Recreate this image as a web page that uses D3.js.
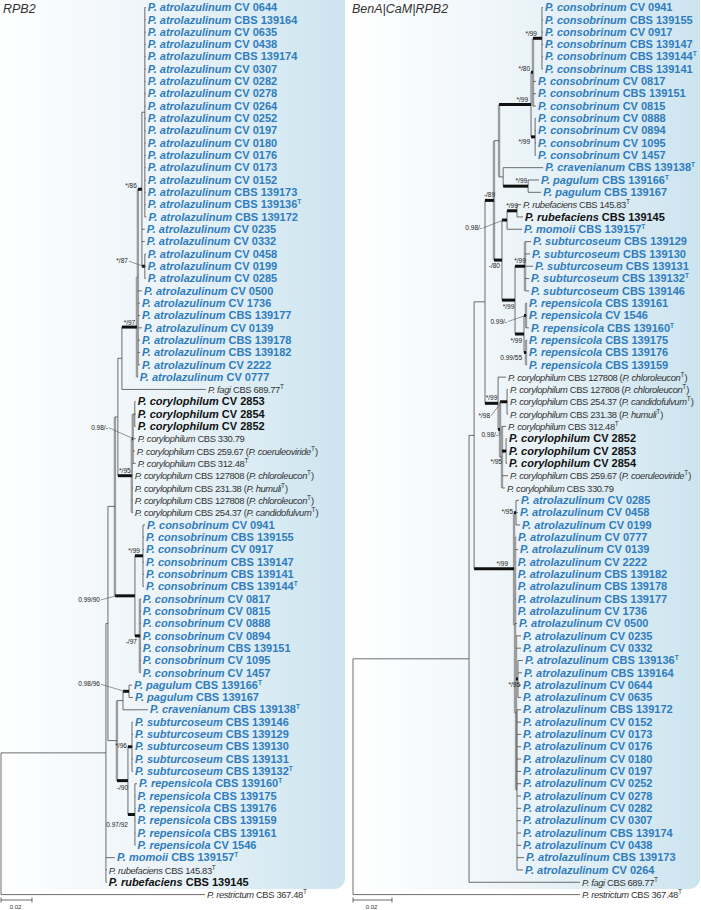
<!DOCTYPE html>
<html><head><meta charset="utf-8">
<script src="https://cdn.jsdelivr.net/npm/d3@7"></script>
<style>
html,body{margin:0;padding:0;background:#fff;}
svg{display:block;font-family:"Liberation Sans",Arial,sans-serif;}
.blue{fill:#2f7cbf;font-weight:bold;font-size:11px;}
.bold{fill:#111;font-weight:bold;font-size:11px;}
.plain{fill:#333;font-weight:normal;font-size:9.4px;letter-spacing:-0.36px;}
.sup{font-size:6.5px;letter-spacing:0;}
.sup-text{font-size:6.5px;fill:#222;}
</style></head>
<body>
<svg id="chart" width="701" height="910"></svg>
<script>
// ---------------- DATA ----------------
const panelTitles = ["RPB2", "BenA|CaM|RPB2"];
const scaleBarValue = 0.02;
const tipRows = 73;

const leftNewick = `(
 (
  (
   (
    (
     (
      (
       (
        (
         (atrolazulinum CV 0644:0.0006,atrolazulinum CBS 139164:0.0006,atrolazulinum CV 0635:0.0006,atrolazulinum CV 0438:0.0006,atrolazulinum CBS 139174:0.0006,atrolazulinum CV 0307:0.0006,atrolazulinum CV 0282:0.0006,atrolazulinum CV 0278:0.0006,atrolazulinum CV 0264:0.0006,atrolazulinum CV 0252:0.0006,atrolazulinum CV 0197:0.0006,atrolazulinum CV 0180:0.0006,atrolazulinum CV 0176:0.0006,atrolazulinum CV 0173:0.0006,atrolazulinum CV 0152:0.0006,atrolazulinum CBS 139173:0.0006,atrolazulinum CBS 139136^T:0.0006,atrolazulinum CBS 139172:0.0010)Q:0.0019,
         atrolazulinum CV 0235:0.0019,
         atrolazulinum CV 0332:0.0019,
         (atrolazulinum CV 0458:0.0006,atrolazulinum CV 0199:0.0006,atrolazulinum CV 0285:0.0006)N87:0.0019
        )N86:0.0026,
        atrolazulinum CV 0500:0.0026,
        atrolazulinum CV 1736:0.0013,
        atrolazulinum CBS 139177:0.0013,
        atrolazulinum CV 0139:0.0026,
        atrolazulinum CBS 139178:0.0013,
        atrolazulinum CBS 139182:0.0013,
        atrolazulinum CV 2222:0.0013
       )P1:0.0006,
       atrolazulinum CV 0777:0.0006
      )ATRO:0.0097,
      fagi CBS 689.77^T:0.0542
     )AF:0.0026,
     (
      (
       (corylophilum CV 2853:0.0006,corylophilum CV 2854:0.0006,corylophilum CV 2852:0.0006)C2:0.0013,
       corylophilum CBS 330.79:0.0019,
       corylophilum CBS 259.67 [coeruleoviride]:0.0013,
       corylophilum CBS 312.48^T:0.0019
      )C1:0.0006,
      corylophilum CBS 127808 [chloroleucon]:0.0006,
      corylophilum CBS 231.38 [humuli]:0.0006,
      corylophilum CBS 127808 [chloroleucon]:0.0006,
      corylophilum CBS 254.37 [candidofulvum]:0.0006
     )CORY:0.0090
    )N2:0.0019,
    (
     (consobrinum CV 0941:0.0013,consobrinum CBS 139155:0.0006,consobrinum CV 0917:0.0006,consobrinum CBS 139147:0.0006,consobrinum CBS 139141:0.0006,consobrinum CBS 139144^T:0.0006)N99:0.0052,
     (consobrinum CV 0817:0.0006,consobrinum CV 0815:0.0006,consobrinum CV 0888:0.0006,consobrinum CV 0894:0.0006,consobrinum CBS 139151:0.0006,consobrinum CV 1095:0.0006,consobrinum CV 1457:0.0006)N97:0.0032
    )CONS:0.0129
   )N1:0.0045,
   (
    ((pagulum CBS 139166^T:0.0019,pagulum CBS 139167:0.0026)PAG:0.0039,cravenianum CBS 139138^T:0.0161)PC:0.0039,
    (
     (subturcoseum CBS 139146:0.0006,subturcoseum CBS 139129:0.0006,subturcoseum CBS 139130:0.0006,subturcoseum CBS 139131:0.0006,subturcoseum CBS 139132^T:0.0006)SUB:0.0026,
     (repensicola CBS 139160^T:0.0013,repensicola CBS 139175:0.0003,repensicola CBS 139176:0.0003,repensicola CBS 139159:0.0003,repensicola CBS 139161:0.0003,repensicola CV 1546:0.0003)REP:0.0045
    )SR:0.0071
   )Z:0.0058
  )A:0.0013,
  momoii CBS 139157^T:0.0058,
  rubefaciens CBS 145.83^T:0.0006,
  rubefaciens CBS 139145:0.0006
 )I:0.0677,
 restrictum CBS 367.48^T:0.1316
)root;`;

const rightNewick = `(
 (
  (
   (
    (
     (
      (
       (
        (consobrinum CV 0941:0.0005,consobrinum CBS 139155:0.0005,consobrinum CV 0917:0.0005,consobrinum CBS 139147:0.0005,consobrinum CBS 139144^T:0.0005,consobrinum CBS 139141:0.0005)N99a:0.0046,
        consobrinum CV 0817:0.0015,consobrinum CBS 139151:0.0015,consobrinum CV 0815:0.0015
       )N80:0.0010,
       (consobrinum CV 0888:0.0005,consobrinum CV 0894:0.0005,consobrinum CV 1095:0.0005,consobrinum CV 1457:0.0005)N99b:0.0021
      )CONS:0.0164,
      (cravenianum CBS 139138^T:0.0205,(pagulum CBS 139166^T:0.0056,pagulum CBS 139167:0.0067)PAG:0.0128)PC:0.0021
     )CPC:0.0026,
     (
      ((rubefaciens CBS 145.83^T:0.0021,rubefaciens CBS 139145:0.0031)RUB:0.0051,momoii CBS 139157^T:0.0077)RUBM:0.0026,
      (
       (subturcoseum CBS 139129:0.0031,subturcoseum CBS 139130:0.0026,subturcoseum CBS 139131:0.0041,subturcoseum CBS 139132^T:0.0021,subturcoseum CBS 139146:0.0021)SUB:0.0051,
       ((repensicola CBS 139161:0.0005,repensicola CV 1546:0.0005,repensicola CBS 139160^T:0.0015)R1:0.0010,(repensicola CBS 139175:0.0005,repensicola CBS 139176:0.0005,repensicola CBS 139159:0.0005)R2:0.0010)REP:0.0046
      )SR:0.0067
     )W:0.0041
    )V:0.0046,
    (
     corylophilum CBS 127808 [chloroleucon]:0.0041,
     (
      (corylophilum CBS 127808 [chloroleucon]:0.0005,corylophilum CBS 254.37 [candidofulvum]:0.0005,corylophilum CBS 231.38 [humuli]:0.0005)C3:0.0036,
      (corylophilum CBS 312.48^T:0.0021,(corylophilum CV 2852:0.0005,corylophilum CV 2853:0.0005,corylophilum CV 2854:0.0005)C5:0.0021,corylophilum CBS 259.67 [coeruleoviride]:0.0031,corylophilum CBS 330.79:0.0015)C4:0.0010
     )C2:0.0010
    )CORY:0.0067
   )U:0.0056,
   (
    (atrolazulinum CV 0285:0.0015,atrolazulinum CV 0458:0.0010,atrolazulinum CV 0199:0.0021)A95:0.0010,
    (
     atrolazulinum CV 0777:0.0005,atrolazulinum CV 0139:0.0015,atrolazulinum CV 2222:0.0003,atrolazulinum CBS 139182:0.0003,atrolazulinum CBS 139178:0.0003,atrolazulinum CBS 139177:0.0003,atrolazulinum CV 1736:0.0003,atrolazulinum CV 0500:0.0010,
     (
      atrolazulinum CV 0235:0.0026,atrolazulinum CV 0332:0.0026,
      (atrolazulinum CBS 139136^T:0.0026,atrolazulinum CBS 139164:0.0021,atrolazulinum CV 0644:0.0015,atrolazulinum CV 0635:0.0015)B95:0.0010,
      (atrolazulinum CBS 139172:0.0021,atrolazulinum CV 0152:0.0021,atrolazulinum CV 0173:0.0021,atrolazulinum CV 0176:0.0021,atrolazulinum CV 0180:0.0021,atrolazulinum CV 0197:0.0021,atrolazulinum CV 0252:0.0021,atrolazulinum CV 0278:0.0021,atrolazulinum CV 0282:0.0021,atrolazulinum CV 0307:0.0021,atrolazulinum CBS 139174:0.0021,atrolazulinum CV 0438:0.0021,atrolazulinum CBS 139173:0.0036,atrolazulinum CV 0264:0.0031)B2:0.0005
     )B:0.0005
    )X:0.0005
   )ATRO:0.0205
  )I2:0.0026,
  fagi CBS 689.77^T:0.0569
 )F:0.0595,
 restrictum CBS 367.48^T:0.1164
)root;`;

const blueSpecies = ["atrolazulinum","consobrinum","pagulum","cravenianum","subturcoseum","repensicola","momoii"];
const boldTips = ["corylophilum CV 2853","corylophilum CV 2854","corylophilum CV 2852","rubefaciens CBS 139145"];

const leftSupport = [["N86","*/86"],["N87","*/87"],["ATRO","*/97"],["C1","0.98/-"],["CORY","*/95"],["N99","*/99"],["CONS","0.99/90"],["N97","-/97"],["PAG","0.98/96"],["SUB","*/96"],["SR","-/90"],["REP","0.97/92"]];
const rightSupport = [["N99a","*/99"],["N80","*/80"],["CONS","*/99"],["N99b","*/99"],["PAG","*/99"],["V","-/89"],["RUB","*/99"],["RUBM","0.98/-"],["W","-/80"],["SUB","*/99"],["SR","*/99"],["R1","0.99/-"],["REP","*/99"],["R2","0.99/55"],["CORY","*/99"],["C3","*/98"],["C2","0.98/-"],["C5","*/95"],["A95","*/95"],["ATRO","*/99"],["B95","*/95"]];

// ---------------- STYLE / LAYOUT ----------------
const leftLabelPos = {N86:["end",-1,-1],N87:["end",-14,-3,1],ATRO:["mid",0,-2.5],C1:["end",-24,-9,1],CORY:["mid",0,-2.5],N99:["end",5,-2.5],CONS:["end",-15,6,1],N97:["end",2,8],PAG:["end",-23,-5,1],SUB:["end",-1,1],SR:["mid",0,9],REP:["end",0,12]};
const rightLabelPos = {N99a:["end",4,-2.5],N80:["end",-1,-1],CONS:["end",29,-3],N99b:["end",-1,7],PAG:["end",24,-3],V:["mid",0,-3],RUB:["mid",0,-3],RUBM:["end",-20,10,1],W:["end",6,8],SUB:["mid",0,-3],SR:["mid",0,9],R1:["end",-17,8,1],REP:["end",7,9],R2:["end",-2,8],CORY:["mid",0,-3],C3:["end",-10,16,1],C2:["end",0,8,1],C5:["end",0,13],A95:["end",-1,1],ATRO:["end",34,-3],B95:["end",4,8]};
const leftGrey = ["ATRO","P1","CORY","C1","N1","Z","N97"];
const rightGrey = ["V","CPC","N80","SUB","R1","R2","C2","C4","ATRO","X","B"];

function parseNewick(s) {
  let i = 0;
  const ws = () => { while (i < s.length && /\s/.test(s[i])) i++; };
  function node() {
    ws();
    const n = {};
    if (s[i] === '(') {
      i++; n.children = [node()]; ws();
      while (s[i] === ',') { i++; n.children.push(node()); ws(); }
      i++;
    }
    let name = '';
    while (i < s.length && !',():;'.includes(s[i])) name += s[i++];
    n.name = name.trim();
    if (s[i] === ':') { i++; let num = ''; while (i < s.length && !',();'.includes(s[i])) num += s[i++]; n.length = +num; }
    else n.length = 0;
    return n;
  }
  return node();
}

const svg = d3.select("#chart");
const defs = svg.append("defs");
const grad = defs.append("linearGradient").attr("id","bg").attr("x1",0).attr("x2",1).attr("y1",0).attr("y2",0);
grad.append("stop").attr("offset","0%").attr("stop-color","#ffffff");
grad.append("stop").attr("offset","45%").attr("stop-color","#eef5f9");
grad.append("stop").attr("offset","100%").attr("stop-color","#cce4ef");

svg.append("rect").attr("x",-12).attr("y",-12).attr("width",357).attr("height",901).attr("rx",11).attr("fill","url(#bg)");
svg.append("rect").attr("x",349).attr("y",-12).attr("width",351).attr("height",901).attr("rx",11).attr("fill","url(#bg)");

const rowY = d3.scaleLinear().domain([0, tipRows - 1]).range([7.5, 894.6]);

function drawLabel(g, name, x, y) {
  let paren = null;
  const m = name.match(/\[(.+)\]/);
  if (m) { paren = m[1]; name = name.replace(/\s*\[.+\]/, ''); }
  const parts = name.split(' ');
  const species = parts[0];
  let strain = parts.slice(1).join(' ');
  let typeT = false;
  if (strain.endsWith('^T')) { typeT = true; strain = strain.slice(0, -2); }
  const cls = blueSpecies.includes(species) ? 'blue' : (boldTips.includes(name) ? 'bold' : 'plain');
  const t = g.append("text").attr("class", cls).attr("x", x).attr("y", y + 3.7);
  t.append("tspan").attr("font-style","italic").text("P. " + species);
  t.append("tspan").text(" " + strain);
  let up = false;
  if (typeT) { t.append("tspan").attr("class","sup").attr("dy",-4).text("T"); up = true; }
  if (paren) {
    t.append("tspan").attr("dy", up ? 4 : 0).text(" (");
    t.append("tspan").attr("font-style","italic").text("P. " + paren);
    t.append("tspan").attr("class","sup").attr("dy",-4).text("T");
    t.append("tspan").attr("dy",4).text(")");
  }
}

function drawTree(newick, xScale, support, labelPos, greyList) {
  const root = d3.hierarchy(parseNewick(newick));
  root.eachBefore(n => { n.len = n.parent ? n.parent.len + n.data.length : 0; n.px = xScale(n.len); });
  root.leaves().forEach((l, i) => l.py = rowY(i));
  root.eachAfter(n => { if (n.children) n.py = (n.children[0].py + n.children[n.children.length - 1].py) / 2; });
  const supMap = new Map(support);
  const g = svg.append("g");
  const nodes = root.descendants();
  nodes.filter(n => n.children).forEach(n => {
    const y0 = n.children[0].py, y1 = n.children[n.children.length - 1].py;
    const grey = greyList.includes(n.data.name);
    g.append("line").attr("x1", n.px).attr("x2", n.px).attr("y1", y0).attr("y2", y1)
      .attr("stroke", grey ? "#9c9c9c" : "#4a4a4a").attr("stroke-width", grey ? 2.4 : 0.8);
  });
  nodes.filter(n => n.parent).forEach(n => {
    const thick = supMap.has(n.data.name);
    g.append("line").attr("x1", n.parent.px).attr("x2", n.px).attr("y1", n.py).attr("y2", n.py)
      .attr("stroke", thick ? "#111" : "#4a4a4a").attr("stroke-width", thick ? 3 : 0.8);
  });
  root.leaves().forEach(l => drawLabel(g, l.data.name, l.px + 2, l.py));
  nodes.filter(n => supMap.has(n.data.name)).forEach(n => {
    const [anchor, dx, dy, leader] = labelPos[n.data.name];
    const x = anchor === "mid" ? (n.parent.px + n.px) / 2 + dx : n.parent.px + dx;
    const y = n.py + dy;
    g.append("text").attr("class","sup-text").attr("x", x).attr("y", y)
      .attr("text-anchor", anchor === "mid" ? "middle" : "end").text(supMap.get(n.data.name));
    if (leader) {
      g.append("line").attr("x1", x + 1).attr("y1", y - 2).attr("x2", n.parent.px + 1.5).attr("y2", n.py)
        .attr("stroke", "#555").attr("stroke-width", 0.6);
    }
  });
  return root;
}

const xLeft = d3.scaleLinear().domain([0, scaleBarValue]).range([1, 32]);
const xRight = d3.scaleLinear().domain([0, scaleBarValue]).range([353, 392]);
drawTree(leftNewick, xLeft, leftSupport, leftLabelPos, leftGrey);
drawTree(rightNewick, xRight, rightSupport, rightLabelPos, rightGrey);

[xLeft, xRight].forEach(sc => {
  const g = svg.append("g").attr("stroke", "#444").attr("stroke-width", 0.8);
  const x0 = sc(0), x1 = sc(scaleBarValue), y = 900;
  g.append("line").attr("x1", x0).attr("x2", x1).attr("y1", y).attr("y2", y);
  g.append("line").attr("x1", x0).attr("x2", x0).attr("y1", y - 2.5).attr("y2", y + 2.5);
  g.append("line").attr("x1", x1).attr("x2", x1).attr("y1", y - 2.5).attr("y2", y + 2.5);
  svg.append("text").attr("x", (x0 + x1) / 2 - 1).attr("y", 909).attr("text-anchor","middle")
    .attr("font-size", 6).attr("fill", "#333").text(String(scaleBarValue));
});

svg.append("text").attr("x", 3).attr("y", 12.5).attr("font-size", 12.5).attr("font-style","italic").attr("fill","#333").text(panelTitles[0]);
svg.append("text").attr("x", 352).attr("y", 12.5).attr("font-size", 12.5).attr("font-style","italic").attr("fill","#333").text(panelTitles[1]);
</script>
</body></html>
